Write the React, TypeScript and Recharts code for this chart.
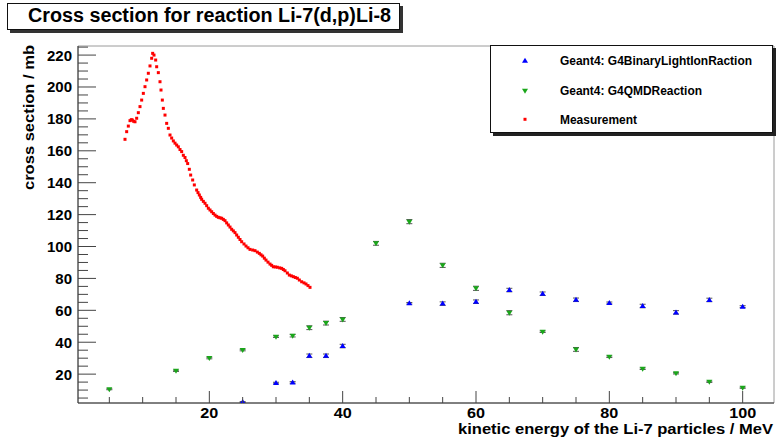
import {
  ScatterChart, Scatter, XAxis, YAxis, ErrorBar, Legend, ReferenceArea,
} from "recharts";

const FONT = '"Liberation Sans", Arial, Helvetica, sans-serif';

// Geant4: G4BinaryLightIonReaction (blue, up triangles)
const BIC_E   = [25, 30, 32.5, 35, 37.5, 40, 50, 55, 60, 65, 70, 75, 80, 85, 90, 95, 100];
const BIC_XS  = [2.5, 14.4, 14.8, 31.5, 31.5, 37.6, 64.4, 64.2, 65.4, 72.7, 70.4, 66.6, 64.6, 62.7, 58.7, 66.5, 62.3];
const BIC_ERR = [0.3, 0.5, 0.5, 1.1, 1.1, 1.1, 0.5, 1.1, 1.1, 1.1, 1.1, 1.1, 0.6, 1.1, 1.1, 1.1, 0.6];

// Geant4: G4QMDReaction (green, down triangles)
const QMD_E   = [5, 15, 20, 25, 30, 32.5, 35, 37.5, 40, 45, 50, 55, 60, 65, 70, 75, 80, 85, 90, 95, 100];
const QMD_XS  = [10.5, 22.1, 30.1, 35.1, 43.5, 44.1, 49.1, 52, 54.3, 102, 115.6, 88.2, 73.8, 58.5, 46.6, 35.5, 30.9, 23.4, 20.5, 15.2, 11.5];
const QMD_ERR = [0.3, 0.4, 0.5, 0.5, 0.5, 0.8, 1.2, 1.2, 1.2, 1.2, 1.3, 1.3, 1.3, 1.3, 0.5, 1.2, 0.5, 0.5, 0.4, 0.4, 0.4];

// Measurement (red squares)
const MEAS_E = [
  7.35, 7.6, 7.85, 8.1, 8.3, 8.45, 8.65, 8.85, 9.1, 9.35, 9.6, 9.85, 10.1, 10.35, 10.6, 10.85,
  11.1, 11.35, 11.5, 11.7, 11.95, 12.1, 12.35, 12.6, 12.75, 12.95, 13.1, 13.35, 13.6, 13.85,
  14.1, 14.35, 14.6, 14.85, 15.1, 15.35, 15.6, 15.85, 16.1, 16.35, 16.55, 16.75, 17, 17.2,
  17.5, 17.75, 18.1, 18.3, 18.5, 18.7, 18.85, 19.1, 19.35, 19.6, 19.85, 20.1, 20.35, 20.6,
  20.85, 21.1, 21.35, 21.6, 21.85, 22.1, 22.35, 22.6, 22.85, 23.1, 23.35, 23.6, 23.85, 24.1,
  24.35, 24.6, 24.85, 25.2, 25.5, 25.8, 26.1, 26.5, 26.85, 27.2, 27.5, 27.75, 28, 28.25,
  28.5, 28.8, 29.1, 29.35, 29.6, 29.9, 30.2, 30.55, 30.85, 31.1, 31.35, 31.7, 32, 32.3,
  32.6, 32.9, 33.2, 33.5, 33.85, 34.2, 34.5, 34.8, 35.1,
];
const MEAS_XS = [
  167.2, 172, 175.5, 178.9, 179.5, 179.3, 178.5, 178.2, 180.4, 183.9, 187.7, 191.8, 196, 200.2, 204.4, 208.6,
  213.2, 218, 221.1, 220, 216.9, 212.7, 209, 203.3, 198.1, 191.8, 186.6, 182.4, 177.2, 174.1,
  169.9, 168, 166.2, 164.8, 163.6, 162.5, 160.8, 159.5, 157.2, 155.8, 153.8, 152, 148.4, 144.8,
  141.7, 138.6, 135.4, 133.8, 132.3, 130.8, 129.6, 128.3, 127.1, 125.6, 124, 122.9, 121.8, 120.7,
  119.7, 118.9, 118.3, 118, 117.7, 117, 116.2, 114.8, 113.5, 112.2, 110.8, 109.8, 108.7, 107.2,
  105.8, 104.4, 103, 101.6, 100.3, 99.2, 98.2, 97.8, 97.4, 96.5, 95.7, 94.8, 94, 92.7,
  91.5, 90.2, 89, 88.2, 87.3, 87.2, 87, 86.6, 86.3, 85.6, 84.8, 83.4, 82.1, 81.6,
  81.1, 80.6, 80.1, 79, 77.9, 77.2, 76.5, 75.5, 74.4,
];

const X_TICKS = [5, 10, 15, 20, 25, 30, 35, 40, 45, 50, 55, 60, 65, 70, 75, 80, 85, 90, 95, 100];
const X_LABELS = [20, 40, 60, 80, 100];
const Y_TICKS = Array.from({ length: 45 }, (_, i) => (i + 1) * 5);
const Y_LABELS = [20, 40, 60, 80, 100, 120, 140, 160, 180, 200, 220];

const X_DOMAIN: [number, number] = [0.3, 104.7];
const Y_DOMAIN: [number, number] = [1.9, 225.7];

const TITLE = "Cross section for reaction Li-7(d,p)Li-8";
const X_TITLE = "kinetic energy of the Li-7 particles / MeV";
const Y_TITLE = "cross section / mb";

const COLORS = { bic: "#0000ff", qmd: "#1aa61a", meas: "#ff0000" };

const LEGEND = [
  { key: "bic",  name: "Geant4: G4BinaryLightIonRaction", len: 192 },
  { key: "qmd",  name: "Geant4: G4QMDReaction",           len: 142 },
  { key: "meas", name: "Measurement",                     len: 77 },
] as const;

const bicData  = BIC_E.map((e, i) => ({ e, xs: BIC_XS[i], err: BIC_ERR[i] }));
const qmdData  = QMD_E.map((e, i) => ({ e, xs: QMD_XS[i], err: QMD_ERR[i] }));
const measData = MEAS_E.map((e, i) => ({ e, xs: MEAS_XS[i] }));

function Marker({ kind, cx, cy }: { kind: string; cx: number; cy: number }) {
  if (kind === "bic")
    return <polygon points={`${cx},${cy - 3} ${cx - 3},${cy + 2} ${cx + 3},${cy + 2}`} fill={COLORS.bic} />;
  if (kind === "qmd")
    return <polygon points={`${cx - 3},${cy - 2} ${cx + 3},${cy - 2} ${cx},${cy + 3}`} fill={COLORS.qmd} />;
  return <rect x={cx - 1.5} y={cy - 1.5} width={3} height={3} fill={COLORS.meas} />;
}

function XTick({ x, y, payload }: any) {
  const v = payload.value;
  const major = X_LABELS.includes(v);
  return (
    <g>
      <line x1={x} x2={x} y1={y} y2={y - (major ? 12 : 6)} stroke="#444" />
      {major && (
        <text x={x} y={y + 15} textAnchor="middle" fontSize={14} fontWeight="bold" fontFamily={FONT} fill="#000"
          textLength={v >= 100 ? 27 : 18} lengthAdjust="spacingAndGlyphs">
          {v}
        </text>
      )}
    </g>
  );
}

function YTick({ x, y, payload }: any) {
  const v = payload.value;
  const major = Y_LABELS.includes(v);
  return (
    <g>
      <line x1={x} x2={x + (major ? 18 : 10)} y1={y} y2={y} stroke="#444" />
      {major && (
        <text x={x - 6} y={y + 5.5} textAnchor="end" fontSize={15} fontWeight="bold" fontFamily={FONT} fill="#000">
          {v}
        </text>
      )}
    </g>
  );
}

function LegendBox() {
  return (
    <div
      style={{
        width: 283, height: 88, boxSizing: "border-box", background: "#fff",
        border: "1px solid #111", boxShadow: "3px 3px 0 #222",
      }}
    >
      <svg width={281} height={86} style={{ display: "block" }}>
        {LEGEND.map((it, i) => {
          const cy = [14.7, 44.7, 73.3][i];
          return (
            <g key={it.key}>
              <Marker kind={it.key} cx={34} cy={cy} />
              <text
                x={69} y={cy + 4.5} fontSize={13} fontWeight="bold" fontFamily={FONT} fill="#000"
                textLength={it.len} lengthAdjust="spacingAndGlyphs"
              >
                {it.name}
              </text>
            </g>
          );
        })}
      </svg>
    </div>
  );
}

export default function App() {
  return (
    <div style={{ position: "absolute", left: 0, top: 0, width: 777, height: 448, background: "#fff" }}>
      <ScatterChart width={777} height={448} margin={{ top: 46, right: 3, bottom: 0, left: 0 }}>
        <ReferenceArea
          x1={X_DOMAIN[0]} x2={X_DOMAIN[1]} y1={Y_DOMAIN[0]} y2={Y_DOMAIN[1]}
          fill="none" fillOpacity={0} stroke="#9a9a9a" strokeOpacity={1}
        />
        <XAxis
          type="number" dataKey="e" domain={X_DOMAIN} allowDataOverflow
          ticks={X_TICKS} interval={0} tickSize={0} tickMargin={0} tickLine={false}
          tick={<XTick />} height={45} axisLine={{ stroke: "#333" }}
          label={{
            content: (p: any) => {
              const vb = p.viewBox;
              return (
                <text
                  x={vb.x + vb.width - 1} y={vb.y + 31} textAnchor="end"
                  fontSize={14} fontWeight="bold" fontFamily={FONT} fill="#000"
                  textLength={315} lengthAdjust="spacingAndGlyphs"
                >
                  {X_TITLE}
                </text>
              );
            },
          }}
        />
        <YAxis
          type="number" dataKey="xs" domain={Y_DOMAIN} allowDataOverflow
          ticks={Y_TICKS} interval={0} tickSize={0} tickMargin={0} tickLine={false}
          tick={<YTick />} width={78} axisLine={{ stroke: "#333" }}
          label={{
            content: (p: any) => {
              const vb = p.viewBox;
              return (
                <text
                  transform={`translate(${vb.x + 34}, ${vb.y - 1}) rotate(-90)`} textAnchor="end"
                  fontSize={15} fontWeight="bold" fontFamily={FONT} fill="#000"
                  textLength={145} lengthAdjust="spacingAndGlyphs"
                >
                  {Y_TITLE}
                </text>
              );
            },
          }}
        />
        <Legend
          layout="horizontal" verticalAlign="middle" align="center"
          wrapperStyle={{ left: 490, top: 45, width: 286, height: 91 }}
          content={() => <LegendBox />}
        />
        <Scatter
          name="Measurement" data={measData} isAnimationActive={false}
          shape={(p: any) => <Marker kind="meas" cx={p.cx} cy={p.cy} />}
        />
        <Scatter
          name="Geant4: G4QMDReaction" data={qmdData} isAnimationActive={false}
          shape={(p: any) => <Marker kind="qmd" cx={p.cx} cy={p.cy} />}
        >
          <ErrorBar dataKey="err" direction="y" width={3} stroke="#555" strokeWidth={1} />
        </Scatter>
        <Scatter
          name="Geant4: G4BinaryLightIonRaction" data={bicData} isAnimationActive={false}
          shape={(p: any) => <Marker kind="bic" cx={p.cx} cy={p.cy} />}
        >
          <ErrorBar dataKey="err" direction="y" width={3} stroke="#555" strokeWidth={1} />
        </Scatter>
      </ScatterChart>

      <div
        style={{
          position: "absolute", left: 7, top: 3, width: 393, height: 27, boxSizing: "border-box",
          background: "#fff", border: "1px solid #111", boxShadow: "3px 3px 0 #333",
        }}
      >
        <svg width={391} height={25} style={{ display: "block" }}>
          <text
            x={20} y={18} fontSize={20} fontWeight="bold" fontFamily={FONT} fill="#000"
            textLength={363} lengthAdjust="spacingAndGlyphs"
          >
            {TITLE}
          </text>
        </svg>
      </div>
    </div>
  );
}
